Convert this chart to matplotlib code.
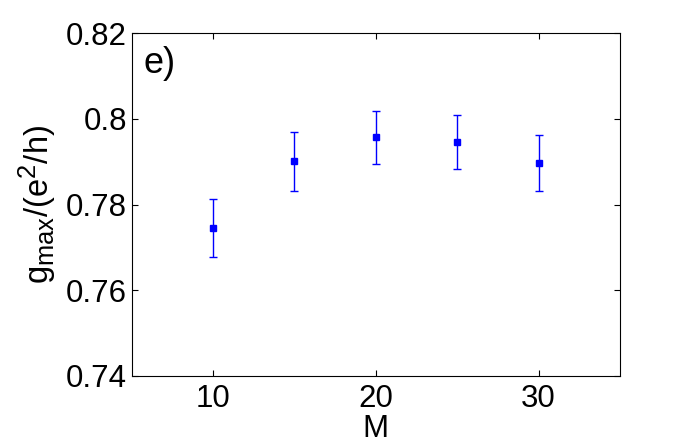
import matplotlib
matplotlib.use("Agg")
import matplotlib.pyplot as plt
import matplotlib._mathtext as _mt

M = [10, 15, 20, 25, 30]
g_max = [0.7745, 0.7901, 0.7957, 0.7946, 0.7897]
g_err = [0.0068, 0.0068, 0.0061, 0.0063, 0.0066]
xticks = [10, 20, 30]
yticks = [0.74, 0.76, 0.78, 0.80, 0.82]
yticklabels = ["0.74", "0.76", "0.78", "0.8", "0.82"]

plt.rcParams['font.family'] = ['Liberation Sans', 'DejaVu Sans']
plt.rcParams['mathtext.fontset'] = 'custom'
plt.rcParams['mathtext.rm'] = 'Liberation Sans'
plt.rcParams['mathtext.it'] = 'Liberation Sans'
# larger sub/superscripts, closer to the reference label
_mt.SHRINK_FACTOR = 0.78

fig = plt.figure(figsize=(6.85, 4.43), dpi=100)
ax = fig.add_axes([131.7/685, (443-376)/443, (620-131.7)/685, (376-33.3)/443])

ax.errorbar(M, g_max, yerr=g_err, fmt='s', color=(0, 0, 1), ecolor=(0, 0, 1),
            markersize=3.8, elinewidth=1.0, capsize=3.2, capthick=1.0)

ax.set_xlim(5, 35)
ax.set_ylim(0.74, 0.82)
ax.set_xticks(xticks)
ax.set_yticks(yticks)
ax.set_yticklabels(yticklabels)
ax.tick_params(direction='in', length=4, width=0.8, labelsize=22.5, top=True, right=True)
ax.tick_params(axis='x', pad=6)
ax.tick_params(axis='y', pad=3.5)
for s in ax.spines.values():
    s.set_linewidth(0.8)

ax.set_xlabel('M', fontsize=22.5, labelpad=0)
ax.set_ylabel(r'$\mathregular{g_{max}/(e^2/h)}$', fontsize=23.5)
ax.yaxis.set_label_coords(-0.151, 0.5)
ax.text(0.025, 0.962, 'e)', transform=ax.transAxes, fontsize=26, va='top', ha='left')

fig.savefig('out.png', dpi=100)
